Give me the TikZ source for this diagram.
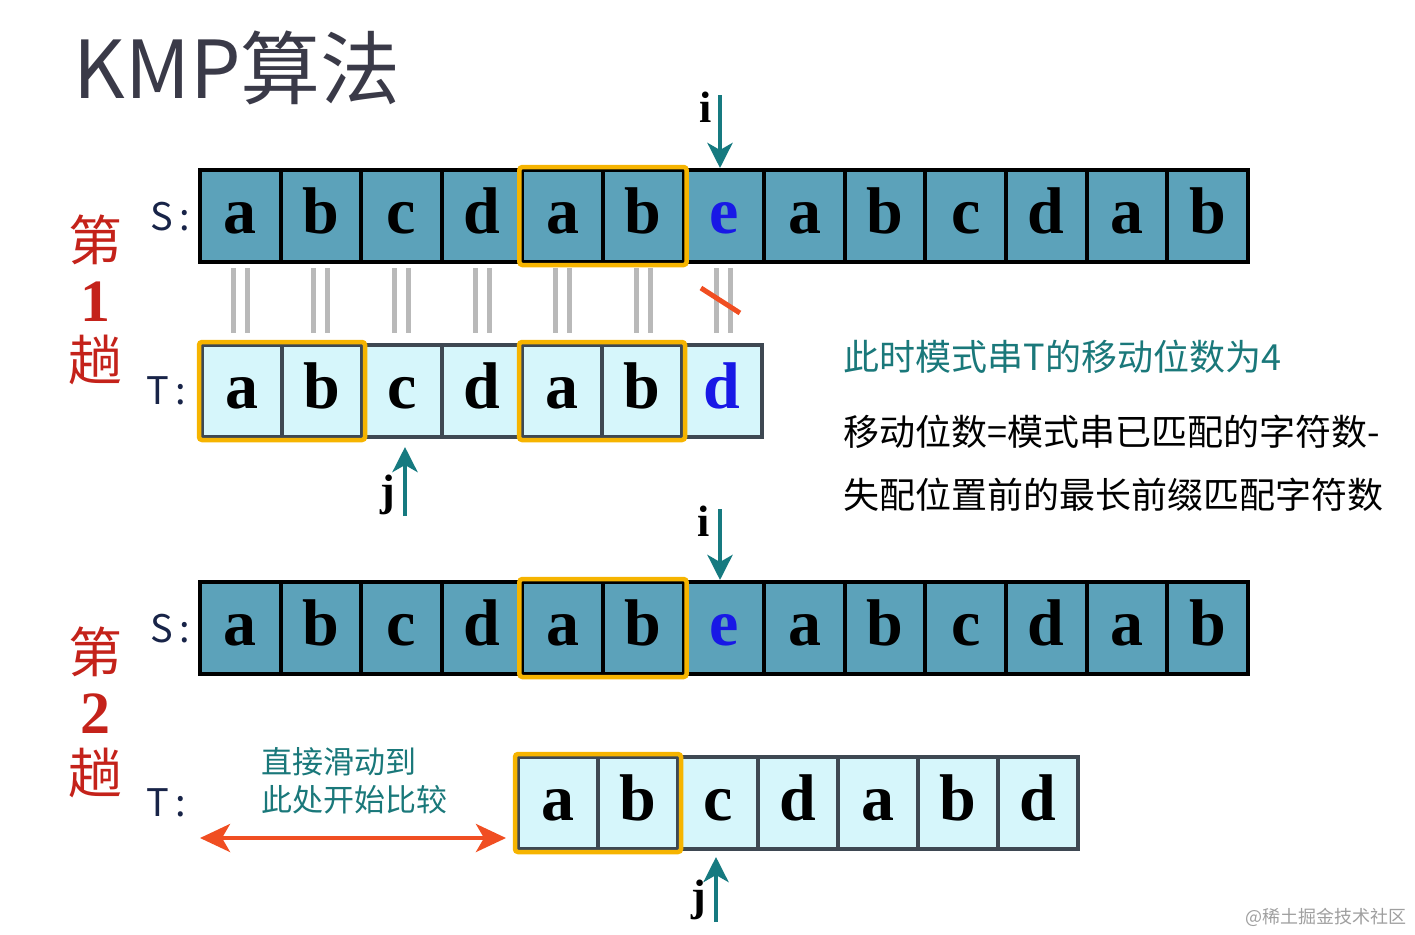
\documentclass[tikz,border=0pt]{standalone}
\usepackage{fontspec}
\setmainfont{Liberation Serif}
\newfontfamily\cjk{Noto Sans CJK SC}
\usepackage{tikz}
\usetikzlibrary{arrows.meta,calc,positioning}
\usepackage{xcolor}
\definecolor{scellfill}{RGB}{92,162,186}
\definecolor{tcellfill}{RGB}{214,246,251}
\definecolor{tedge}{RGB}{62,72,82}
\definecolor{hilite}{RGB}{246,180,0}
\definecolor{ptrteal}{RGB}{22,122,128}
\definecolor{noteteal}{RGB}{26,120,122}
\definecolor{passred}{RGB}{196,34,26}
\definecolor{slidered}{RGB}{240,78,34}
\definecolor{navy}{RGB}{24,36,72}
\definecolor{titlegray}{RGB}{58,58,72}
\definecolor{misblue}{RGB}{24,24,230}

\begin{document}
\begin{tikzpicture}[
  x=1pt, y=-1pt,
  >=Stealth,
  cell/.style={draw, line width=4pt, inner sep=0pt, minimum height=92pt,
    font=\fontsize{66}{66}\selectfont\bfseries, text height=34pt, text depth=0pt},
  scell/.style={cell, fill=scellfill, draw=black, minimum width=80.6pt},
  tcell/.style={cell, fill=tcellfill, draw=tedge, minimum width=80pt},
  match/.style={draw=hilite, line width=4.5pt, rounded corners=3pt},
  eqline/.style={draw=gray!55, line width=5pt},
  ptr/.style={-{Stealth[length=25pt,width=25pt,inset=7pt]}, draw=ptrteal, line width=4.5pt},
  ptrlabel/.style={font=\fontsize{44}{44}\selectfont\bfseries, anchor=base},
  rowlabel/.style={font=\cjk\fontsize{38}{38}\selectfont, text=navy, anchor=base},
  passlabel/.style={font=\cjk\fontsize{54}{54}\selectfont, text=passred},
  passnum/.style={font=\fontsize{60}{60}\selectfont\bfseries, text=passred},
  note/.style={font=\cjk\fontsize{36}{36}\selectfont, anchor=west},
  slide/.style={{Stealth[length=30pt,width=28pt,inset=8pt]}-{Stealth[length=30pt,width=28pt,inset=8pt]},
    draw=slidered, line width=4pt}
]
\useasboundingbox (0,0) rectangle (1415,934);

% title
\node[font=\cjk\fontsize{80}{80}\selectfont, text=titlegray, anchor=west] (title) at (70,68) {KMP算法};

% pass 1
\node[passlabel] (p1a) at (95,240) {第};
\node[passnum]   (p1b) at (95,302) {1};
\node[passlabel] (p1c) at (95,360) {趟};
\node[rowlabel] (s1lab) at (170,230) {S\,:};
\node[rowlabel] (t1lab) at (166,404) {T\,:};

\foreach \ch [count=\k] in {a,b,c,d,a,b,{\textcolor{misblue}{e}},a,b,c,d,a,b}
  \node[scell] (s1-\k) at ({200+80.6*(\k-0.5)},216) {\ch};
\foreach \ch [count=\k] in {a,b,c,d,a,b,{\textcolor{misblue}{d}}}
  \node[tcell] (t1-\k) at ({202+80*(\k-0.5)},391) {\ch};

\draw[match] ([shift={(-1,-1)}]s1-5.north west) rectangle ([shift={(1,1)}]s1-6.south east);
\draw[match] ([shift={(-1,-1)}]t1-1.north west) rectangle ([shift={(1,1)}]t1-2.south east);
\draw[match] ([shift={(-1,-1)}]t1-5.north west) rectangle ([shift={(1,1)}]t1-6.south east);

% character comparisons
\foreach \k in {1,...,7} {
  \draw[eqline] ([shift={(-7,4)}]s1-\k.south) -- ([shift={(-7,-10)}]s1-\k.south |- t1-\k.north);
  \draw[eqline] ([shift={(7,4)}]s1-\k.south) -- ([shift={(7,-10)}]s1-\k.south |- t1-\k.north);
}
\draw[draw=slidered, line width=5pt] ($(s1-7.south)+(-23,24)$) -- ($(s1-7.south)+(16,49)$);

% pointers, pass 1
\node[ptrlabel] (i1) at (706,122) {i};
\coordinate (i1tail) at (720,95);
\draw[ptr] (i1tail) -- (i1tail |- s1-7.north);
\node[ptrlabel] (j1) at (388,505) {j};
\coordinate (j1tail) at (405,516);
\draw[ptr, shorten >=8pt] (j1tail) -- (j1tail |- t1-3.south);

% explanation
\node[note, text=noteteal] (shift) at (840,357) {此时模式串T的移动位数为4};
\node[note] (rule1) at (840,432) {移动位数=模式串已匹配的字符数-};
\node[note] (rule2) at (840,495) {失配位置前的最长前缀匹配字符数};

% pass 2
\node[passlabel] (p2a) at (95,652) {第};
\node[passnum]   (p2b) at (95,714) {2};
\node[passlabel] (p2c) at (95,773) {趟};
\node[rowlabel] (s2lab) at (170,642) {S\,:};
\node[rowlabel] (t2lab) at (166,816) {T\,:};

\foreach \ch [count=\k] in {a,b,c,d,a,b,{\textcolor{misblue}{e}},a,b,c,d,a,b}
  \node[scell] (s2-\k) at ({200+80.6*(\k-0.5)},628) {\ch};
\foreach \ch [count=\k] in {a,b,c,d,a,b,d}
  \node[tcell] (t2-\k) at ({518+80*(\k-0.5)},803) {\ch};

\draw[match] ([shift={(-1,-1)}]s2-5.north west) rectangle ([shift={(1,1)}]s2-6.south east);
\draw[match] ([shift={(-1,-1)}]t2-1.north west) rectangle ([shift={(1,1)}]t2-2.south east);

% pointers, pass 2
\node[ptrlabel] (i2) at (704,536) {i};
\coordinate (i2tail) at (720,509);
\draw[ptr] (i2tail) -- (i2tail |- s2-7.north);
\node[ptrlabel] (j2) at (699,910) {j};
\coordinate (j2tail) at (716,922);
\draw[ptr, shorten >=6pt] (j2tail) -- (j2tail |- t2-3.south);

% sliding hint
\node[font=\cjk\fontsize{31}{38}\selectfont, text=noteteal, align=left, anchor=west] (hint) at (258,781) {直接滑动到\\此处开始比较};
\coordinate (slideL) at (200,838);
\draw[slide, shorten >=10pt] (slideL) -- (slideL -| t2-1.west);

% watermark
\node[font=\cjk\fontsize{18}{18}\selectfont, text=gray!75, anchor=east] (mark) at (1410,917) {@稀土掘金技术社区};
\end{tikzpicture}
\end{document}
